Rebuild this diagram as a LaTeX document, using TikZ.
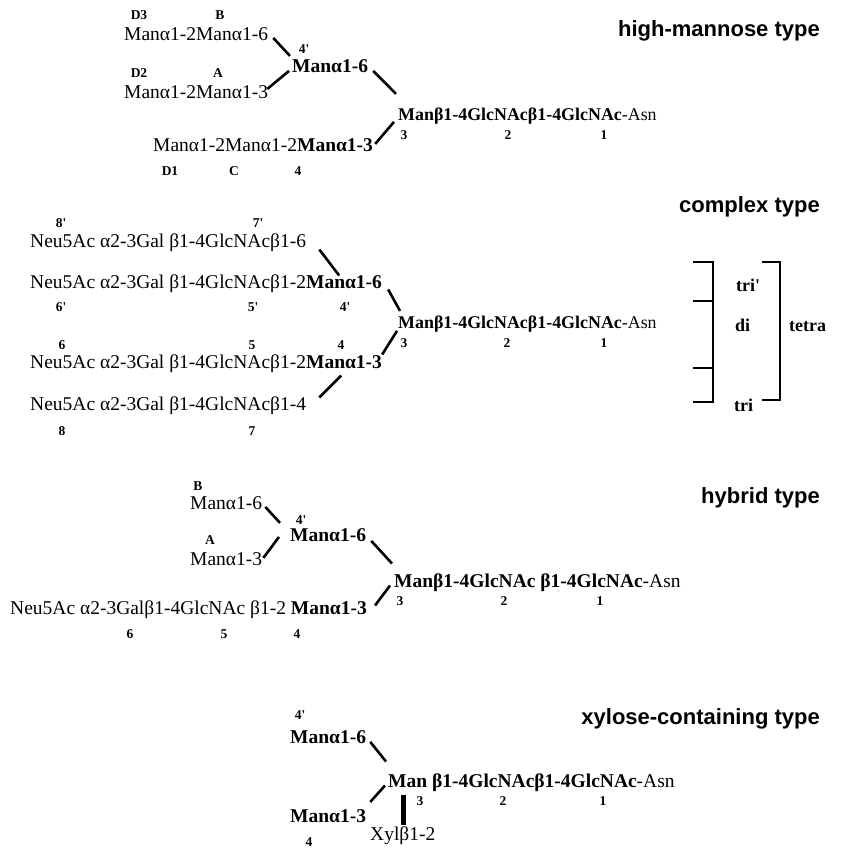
\documentclass[tikz,border=0pt]{standalone}
\usepackage{fontspec}
\setmainfont{Liberation Serif}
\newfontfamily\titlefont{Liberation Sans}
\newcommand{\pr}{\textquotesingle}
\begin{document}
\begin{tikzpicture}[x=1pt,y=-1pt,
  txt/.style={anchor=mid west,inner sep=0pt,font=\fontsize{19.5}{20}\selectfont},
  bt/.style={txt,font=\fontsize{19.5}{20}\selectfont\bfseries},
  coretxt/.style={txt,font=\fontsize{17.9}{18}\selectfont},
  lab/.style={anchor=center,inner sep=0pt,font=\fontsize{13.5}{13.5}\selectfont\bfseries},
  blab/.style={anchor=mid west,inner sep=0pt,font=\fontsize{18}{18}\selectfont\bfseries},
  ttl/.style={anchor=mid east,inner sep=0pt,font=\fontsize{22}{22}\selectfont\titlefont\bfseries},
  link/.style={line width=2.6pt},
  brk/.style={line width=1.3pt}]
\useasboundingbox (0,0) rectangle (847,849);

% ---------- high-mannose ----------
\node[ttl] (t1) at (820,34) {high-mannose type};
\node[lab] (hmD3) at (139,15) {D3};
\node[lab] (hmB) at (220,15) {B};
\node[txt] (hmb) at (124,38) {Manα1-2Manα1-6};
\node[lab] (hm4p) at (304,49) {4\pr};
\node[lab] (hmD2) at (139,73) {D2};
\node[lab] (hmA) at (218,73) {A};
\node[txt] (hma) at (124,96) {Manα1-2Manα1-3};
\node[bt] (hm46) at (292,70) {Manα1-6};
\node[coretxt] (hmcore) at (398,118) {\textbf{Manβ1-4GlcNAcβ1-4GlcNAc}-Asn};
\node[lab] (hm3) at (404,135) {3};
\node[lab] (hm2) at (508,135) {2};
\node[lab] (hm1) at (604,135) {1};
\node[txt] (hmc) at (153,149) {Manα1-2Manα1-2\textbf{Manα1-3}};
\node[lab] (hmD1) at (170,171) {D1};
\node[lab] (hmC) at (234,171) {C};
\node[lab] (hm4) at (298,171) {4};
\draw[link] ([shift={(5,4)}]hmb.east) -- ([shift={(-2,-10)}]hm46.west);
\draw[link] ([shift={(-1,-3)}]hma.east) -- ([shift={(-3,5)}]hm46.west);
\draw[link] ([shift={(5,5)}]hm46.east) -- ([shift={(-2,-22)}]hmcore.west);
\draw[link] ([shift={(2,-1)}]hmc.east) -- ([shift={(-4,6)}]hmcore.west);

% ---------- complex ----------
\node[ttl] (t2) at (820,210) {complex type};
\node[lab] (c8p) at (61,223) {8\pr};
\node[lab] (c7p) at (258,223) {7\pr};
\node[txt] (cr1) at (30,245) {Neu5Ac α2-3Gal β1-4GlcNAcβ1-6};
\node[txt] (cr2) at (30,286) {Neu5Ac α2-3Gal β1-4GlcNAcβ1-2\textbf{Manα1-6}};
\node[lab] (c6p) at (61,307) {6\pr};
\node[lab] (c5p) at (253,307) {5\pr};
\node[lab] (c4p) at (345,307) {4\pr};
\node[coretxt] (ccore) at (398,326) {\textbf{Manβ1-4GlcNAcβ1-4GlcNAc}-Asn};
\node[lab] (c3) at (404,343) {3};
\node[lab] (c2) at (507,343) {2};
\node[lab] (c1) at (604,343) {1};
\node[lab] (c6) at (62,345) {6};
\node[lab] (c5) at (252,345) {5};
\node[lab] (c4) at (341,345) {4};
\node[txt] (cr3) at (30,366) {Neu5Ac α2-3Gal β1-4GlcNAcβ1-2\textbf{Manα1-3}};
\node[txt] (cr4) at (30,408) {Neu5Ac α2-3Gal β1-4GlcNAcβ1-4};
\node[lab] (c8) at (62,431) {8};
\node[lab] (c7) at (252,431) {7};
\draw[link] ([shift={(13,7)}]cr1.east) -- ([shift={(-43,-8)}]cr2.east);
\draw[link] ([shift={(6,6)}]cr2.east) -- ([shift={(2,-13)}]ccore.west);
\draw[link] ([shift={(0,-9)}]cr3.east) -- ([shift={(-1,7)}]ccore.west);
\draw[link] ([shift={(13,-8)}]cr4.east) -- ([shift={(-41,12)}]cr3.east);
% brackets
\draw[brk] (693,262) -- (713,262) -- (713,402) -- (693,402);
\draw[brk] (693,301) -- (713,301);
\draw[brk] (693,368) -- (713,368);
\draw[brk] (762,262) -- (780,262) -- (780,400) -- (762,400);
\node[blab] (ltri1) at (736,289) {tri\pr};
\node[blab] (ldi) at (735,329) {di};
\node[blab] (ltri) at (734,409) {tri};
\node[blab] (ltetra) at (789,329) {tetra};

% ---------- hybrid ----------
\node[ttl] (t3) at (820,501) {hybrid type};
\node[lab] (hB) at (198,486) {B};
\node[txt] (hb) at (190,507) {Manα1-6};
\node[lab] (h4p) at (301,520) {4\pr};
\node[bt] (h46) at (290,539) {Manα1-6};
\node[lab] (hA) at (210,540) {A};
\node[txt] (ha) at (190,563) {Manα1-3};
\node[txt] (hcore) at (394,585) {\textbf{Manβ1-4GlcNAc β1-4GlcNAc}-Asn};
\node[lab] (h3) at (400,601) {3};
\node[lab] (h2) at (504,601) {2};
\node[lab] (h1) at (600,601) {1};
\node[txt] (hr) at (10,612) {Neu5Ac α2-3Galβ1-4GlcNAc β1-2 \textbf{Manα1-3}};
\node[lab] (h6) at (130,634) {6};
\node[lab] (h5) at (224,634) {5};
\node[lab] (h4) at (297,634) {4};
\draw[link] ([shift={(3,4)}]hb.east) -- ([shift={(-10,-12)}]h46.west);
\draw[link] ([shift={(1,-1)}]ha.east) -- ([shift={(-11,2)}]h46.west);
\draw[link] ([shift={(5,6)}]h46.east) -- ([shift={(-2,-19)}]hcore.west);
\draw[link] ([shift={(8,-4)}]hr.east) -- ([shift={(-4,3)}]hcore.west);

% ---------- xylose ----------
\node[ttl] (t4) at (820,722) {xylose-containing type};
\node[lab] (x4p) at (300,715) {4\pr};
\node[bt] (x46) at (290,741) {Manα1-6};
\node[txt] (xcore) at (388,785) {\textbf{Man β1-4GlcNAcβ1-4GlcNAc}-Asn};
\node[lab] (x3) at (420,801) {3};
\node[lab] (x2) at (503,801) {2};
\node[lab] (x1) at (603,801) {1};
\node[bt] (x43) at (290,820) {Manα1-3};
\node[lab] (x4) at (309,842) {4};
\node[txt] (xyl) at (370,838) {Xylβ1-2};
\draw[link] ([shift={(4,5)}]x46.east) -- ([shift={(-2,-21)}]xcore.west);
\draw[link] ([shift={(4,-14)}]x43.east) -- ([shift={(-3,3)}]xcore.west);
\draw[line width=5pt] ([shift={(15,12)}]xcore.west) -- ([shift={(33,-11)}]xyl.west);
\end{tikzpicture}
\end{document}
